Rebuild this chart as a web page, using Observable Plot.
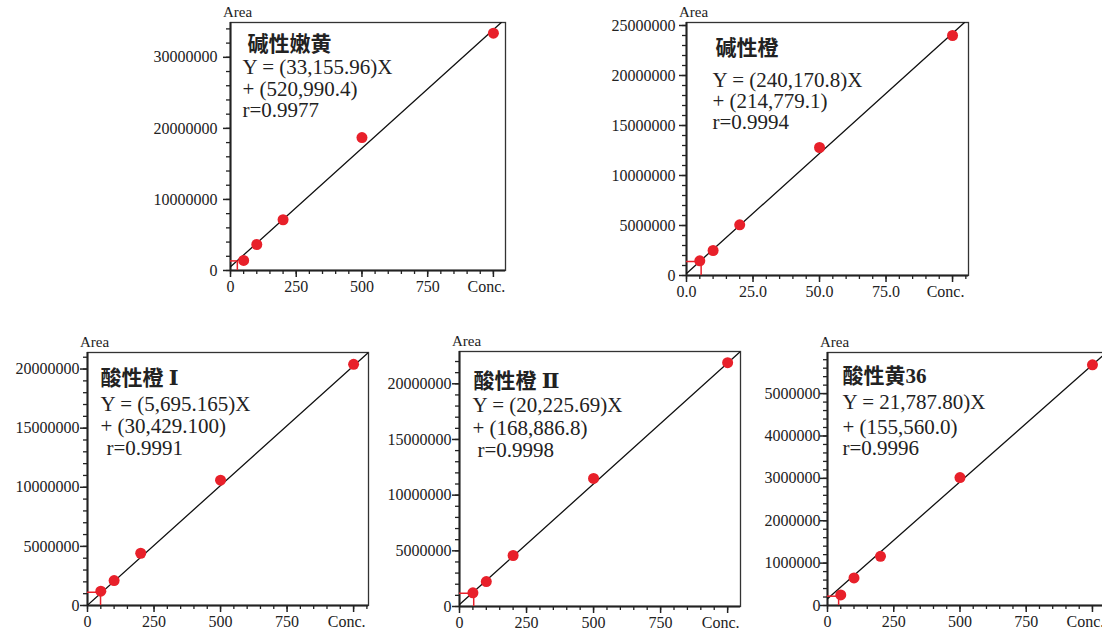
<!DOCTYPE html>
<html><head><meta charset="utf-8">
<script src="https://cdn.jsdelivr.net/npm/d3@7"></script>
<script src="https://cdn.jsdelivr.net/npm/@observablehq/plot@0.6"></script>
<style>
html,body{margin:0;padding:0;background:#fff;overflow:hidden;}
#root{position:relative;width:1102px;height:630px;overflow:hidden;background:#fff;}
.panel{position:absolute;}
.panel svg{max-width:none !important;display:block;}
</style></head><body><div id="root"></div>
<script>
// ---- data ----
const titles = ["碱性嫩黄", "碱性橙", "酸性橙 Ⅰ", "酸性橙 Ⅱ", "酸性黄36"];
const eqLine1 = ["Y = (33,155.96)X", "Y = (240,170.8)X", "Y = (5,695.165)X", "Y = (20,225.69)X", "Y = 21,787.80)X"];
const eqLine2 = ["+ (520,990.4)", "+ (214,779.1)", "+ (30,429.100)", "+ (168,886.8)", "+ (155,560.0)"];
const rLine = ["r=0.9977", "r=0.9994", "r=0.9991", "r=0.9998", "r=0.9996"];
const axisYLabel = "Area";
const axisXLabel = "Conc.";

const concHigh = [50, 100, 200, 500, 1000];
const concLow = [5, 10, 20, 50, 100];
const area1 = [1.41e6, 3.66e6, 7.14e6, 18.7e6, 33.4e6];
const area2 = [1.47e6, 2.5e6, 5.07e6, 12.8e6, 24.0e6];
const area3 = [1.21e6, 2.11e6, 4.42e6, 10.6e6, 20.4e6];
const area4 = [1.23e6, 2.24e6, 4.58e6, 11.5e6, 21.9e6];
const area5 = [0.25e6, 0.65e6, 1.16e6, 3.02e6, 5.68e6];

// fitted line end points
const fitX = [[0, 1030], [0, 104.5], [0, 1056], [0, 1048], [0, 1053]];
const fitY = [[0.52e6, 34.9e6], [0.21e6, 25.3e6], [0.03e6, 21.4e6], [0.17e6, 22.9e6], [0.16e6, 5.97e6]];

// red cursor marker near origin
const markX = [26, 5.5, 49, 53, 42];
const markY = [1.35e6, 1.4e6, 1.12e6, 1.19e6, 0.22e6];

// ticks
const xMajorHigh = [0, 250, 500, 750, 1000];
const xMajorLow = [0, 25, 50, 75, 100];
const yMajor = [
  [0, 1e7, 2e7, 3e7],
  [0, 5e6, 1e7, 1.5e7, 2e7, 2.5e7],
  [0, 5e6, 1e7, 1.5e7, 2e7],
  [0, 5e6, 1e7, 1.5e7, 2e7],
  [0, 1e6, 2e6, 3e6, 4e6, 5e6]
];
const yMinorStep = [2e6, 1e6, 1e6, 1e6, 2e5];
const xDomainMax = [1046, 106, 1056, 1048, 1053];
const yDomainMax = [34.9e6, 25.3e6, 21.4e6, 22.9e6, 5.97e6];

// ---- layout (pixels) ----
const layout = [
  {fl: 230, fr: 505, ft: 22, fb: 270, pad: 6, title: [17, 22], eq: [12, 45, 67, 88], rdx: 12},
  {fl: 686, fr: 968, ft: 22, fb: 275, pad: 4, title: [29, 26], eq: [26, 58, 79, 100], rdx: 26},
  {fl: 87, fr: 368, ft: 352, fb: 605, pad: 1, title: [13, 26], eq: [13, 52, 74, 96], rdx: 19},
  {fl: 459, fr: 740, ft: 351, fb: 606, pad: 1, title: [14, 30], eq: [13, 54, 77, 99], rdx: 18},
  {fl: 827, fr: 1106, ft: 352, fb: 605, pad: 0, title: [15, 24], eq: [15, 50, 75, 96], rdx: 15}
];
const ML = 85, MR = 6, MT = 25, MB = 30;
const RED = "#e8202a", INK = "#222";
const SERIF = "Liberation Serif, DejaVu Serif, serif";

const concs = [concHigh, concLow, concHigh, concHigh, concHigh];
const areas = [area1, area2, area3, area4, area5];

const root = document.getElementById("root");

for (let i = 0; i < 5; i++) {
  const L = layout[i];
  const isLow = i === 1;
  const xMajor = isLow ? xMajorLow : xMajorHigh;
  const xMinor = d3.range(0, xDomainMax[i], isLow ? 5 : 50);
  const yMinor = d3.range(0, yDomainMax[i], yMinorStep[i]);
  const xFmt = isLow ? d3.format(".1f") : d3.format("d");
  const lastX = xMajor[xMajor.length - 1];
  const pts = concs[i].map((c, j) => ({c, a: areas[i][j]}));
  const fit = fitX[i].map((x, k) => ({x, y: fitY[i][k]}));
  const mk = [{mx: markX[i], my: markY[i], zero: 0}];

  const textOpt = (dx, dy, size, extra = {}) => Object.assign({
    text: d => d, frameAnchor: "top-left", dx, dy, textAnchor: "start", lineAnchor: "middle",
    fontSize: size, fontFamily: SERIF, fill: INK
  }, extra);

  const W = (L.fr - L.fl) + ML + MR;
  const H = (L.fb - L.ft) + MT + MB;
  const chart = Plot.plot({
    width: W,
    height: H,
    marginLeft: ML, marginRight: MR, marginTop: MT, marginBottom: MB,
    x: {domain: [0, xDomainMax[i]]},
    y: {domain: [0, yDomainMax[i]]},
    style: {fontFamily: SERIF, fontSize: "16px", background: "transparent", color: INK, overflow: "visible"},
    marks: [
      Plot.frame({stroke: "#333", strokeWidth: 1.3}),
      Plot.axisY(yMinor, {tickSize: 4, tickFormat: () => "", label: null, strokeWidth: 1.3, color: INK}),
      Plot.axisY(yMajor[i], {tickSize: 7, tickPadding: L.pad, tickFormat: d3.format("d"), label: null, strokeWidth: 1.5, fontSize: 16, color: INK}),
      Plot.axisX(xMinor, {tickSize: 4, tickFormat: () => "", label: null, strokeWidth: 1.3, color: INK}),
      Plot.axisX(xMajor, {tickSize: 7, tickPadding: 3, tickFormat: d => d === lastX ? "" : xFmt(d), label: null, strokeWidth: 1.5, fontSize: 16, color: INK}),
      Plot.ruleX([0], {stroke: INK, strokeWidth: 2}),
      Plot.ruleY([0], {stroke: INK, strokeWidth: 2}),
      Plot.line(fit, {x: "x", y: "y", stroke: "#111", strokeWidth: 1.3, clip: true}),
      Plot.ruleY(mk, {y: "my", x1: "zero", x2: "mx", stroke: RED, strokeWidth: 1.5}),
      Plot.ruleX(mk, {x: "mx", y1: "zero", y2: "my", stroke: RED, strokeWidth: 1.5}),
      Plot.dot(pts, {x: "c", y: "a", r: 5.5, fill: RED, stroke: "none"}),
      Plot.text([axisXLabel], {text: d => d, x: () => lastX, frameAnchor: "bottom", dy: 16, dx: -7, lineAnchor: "middle", textAnchor: "middle", fontSize: 16, fontFamily: SERIF, fill: INK}),
      Plot.text([axisYLabel], {text: d => d, frameAnchor: "top-left", dx: 7, dy: -10, textAnchor: "middle", lineAnchor: "middle", fontSize: 15, fontFamily: SERIF, fill: INK}),
      Plot.text([titles[i]], textOpt(L.title[0], L.title[1], 21, {fontWeight: "bold", fontFamily: "Liberation Serif, DejaVu Serif, Noto Sans CJK SC, serif"})),
      Plot.text([eqLine1[i]], textOpt(L.eq[0], L.eq[1], 21)),
      Plot.text([eqLine2[i]], textOpt(L.eq[0], L.eq[2], 21)),
      Plot.text([rLine[i]], textOpt(L.rdx, L.eq[3], 21))
    ]
  });
  const div = document.createElement("div");
  div.className = "panel";
  div.style.left = (L.fl - ML) + "px";
  div.style.top = (L.ft - MT) + "px";
  div.style.width = W + "px";
  div.style.height = H + "px";
  chart.setAttribute("width", W);
  chart.setAttribute("height", H);
  chart.style.width = W + "px";
  chart.style.height = H + "px";
  div.appendChild(chart);
  root.appendChild(div);
}
</script>
</body></html>
